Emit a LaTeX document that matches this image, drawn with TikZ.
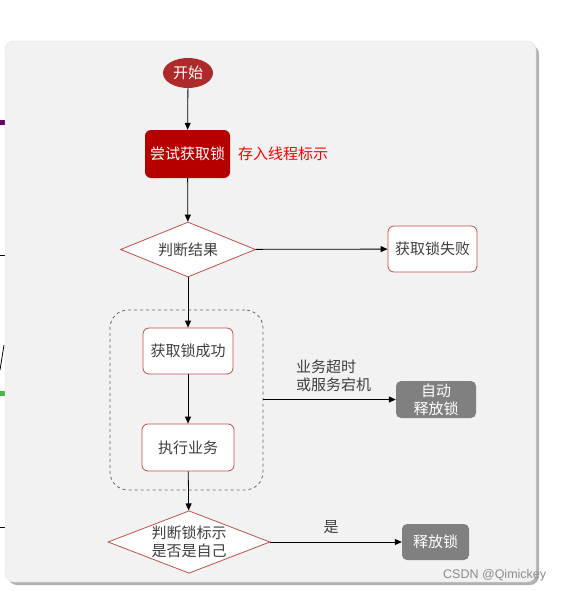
\documentclass[tikz,border=0pt]{standalone}
\usepackage{fontspec}
\setmainfont{Noto Sans CJK SC}
\newfontfamily\wmfont{Liberation Sans}
\usetikzlibrary{shapes.geometric,arrows.meta,shadows}
\definecolor{panel}{HTML}{F2F2F2}
\definecolor{startred}{HTML}{AE2A2A}
\definecolor{tryred}{HTML}{B60000}
\definecolor{edgered}{HTML}{C0504D}
\definecolor{txtgray}{HTML}{3F3F3F}
\definecolor{boxgray}{HTML}{808080}
\tikzset{
  cjk/.style={font=\fontsize{15}{18}\selectfont},
  flow/.style={-{Triangle[length=7pt,width=6pt]},black,line width=0.8pt},
  whitebox/.style={draw=edgered,line width=0.8pt,fill=white,rounded corners=6pt,text=txtgray,cjk,inner sep=0pt},
  graybox/.style={fill=boxgray,rounded corners=5pt,text=white,cjk,inner sep=0pt,align=center},
  decision/.style={diamond,draw=edgered,line width=0.8pt,fill=white,text=txtgray,cjk,inner sep=0pt,aspect=2.45,align=center},
  note/.style={text=txtgray,cjk,inner sep=0pt,align=left}
}
\begin{document}
\begin{tikzpicture}[x=1pt,y=-1pt]
\useasboundingbox (0,0) rectangle (563,591);
% left edge fragments
\fill[violet!80!black] (0,120) rectangle (5,125);
\draw[black,line width=0.6pt] (0,255) -- (5,255);
\draw[black,line width=0.8pt] (0,370) -- (4,345);
\fill[green!60!black!70!white] (0,391) rectangle (5,396);
\draw[black,line width=0.6pt] (0,527) -- (5,527);
% panel
\fill[black!30,rounded corners=9pt] (8,45) rectangle (539,585);
\fill[panel,rounded corners=9pt,draw=black!12] (5,41) rectangle (536,582);
% nodes
\node[ellipse,fill=startred,text=white,minimum width=50pt,minimum height=30pt,inner sep=0pt,cjk] (start) at (188,73) {开始};
\node[fill=tryred,rounded corners=6pt,text=white,minimum width=85pt,minimum height=48pt,inner sep=0pt,cjk] (try) at (187.5,154) {尝试获取锁};
\node[text=red,anchor=west,inner sep=0pt,cjk] (store) at (238,154) {存入线程标示};
\node[decision,minimum width=135pt,minimum height=55pt] (judge) at (188,249.5) {判断结果};
\node[whitebox,minimum width=89pt,minimum height=46pt] (fail) at (432.5,249) {获取锁失败};
\node[draw=black!60,dashed,line width=0.8pt,rounded corners=18pt,minimum width=153pt,minimum height=180pt,inner sep=0pt] (group) at (186.5,400) {};
\node[whitebox,minimum width=90pt,minimum height=46pt] (ok) at (188,351) {获取锁成功};
\node[whitebox,minimum width=92pt,minimum height=47pt] (work) at (188,447.5) {执行业务};
\node[graybox,minimum width=80pt,minimum height=37pt] (auto) at (436,399.5) {自动\\释放锁};
\node[note,anchor=west] (why) at (296,375.5) {业务超时\\或服务宕机};
\node[decision,minimum width=162pt,minimum height=56pt] (self) at (189,542) {判断锁标示\\是否是自己};
\node[graybox,minimum width=67pt,minimum height=36pt] (rel) at (435.5,542) {释放锁};
\node[text=txtgray,inner sep=0pt,cjk] (yes) at (331,527) {是};
\node[text=black!45,inner sep=0pt,anchor=west,font=\wmfont\fontsize{12.5}{13}\selectfont] (wm) at (443,575) {CSDN @Qimickey};
% connectors
\draw[flow] (start) -- (try);
\draw[flow] (try) -- (judge);
\draw[flow] (judge) -- (fail);
\draw[flow] (judge) -- (ok);
\draw[flow] (ok) -- (work);
\draw[flow] (group.east |- auto.west) -- (auto.west);
\draw[flow] (work) -- (self);
\draw[flow] (self) -- (rel);
\end{tikzpicture}
\end{document}
